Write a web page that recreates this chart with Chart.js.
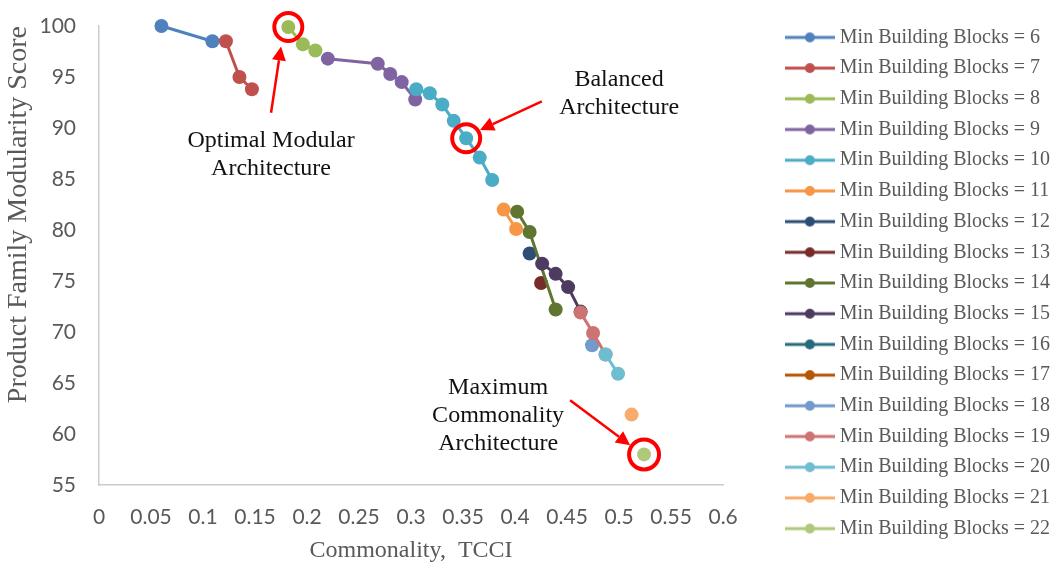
<!DOCTYPE html>
<html>
<head>
<meta charset="utf-8">
<title>Product Family Modularity vs Commonality</title>
<script src="https://cdn.jsdelivr.net/npm/chart.js@4.4.1/dist/chart.umd.min.js"></script>
<style>
  html, body { margin: 0; padding: 0; background: #fff; }
  #wrap { width: 1062px; height: 566px; position: relative; }
</style>
</head>
<body>
<div id="wrap"><canvas id="paretoChart"></canvas></div>
<script>
// --- data: [TCCI, modularity score] per min building blocks ---
const blockCounts = [6, 7, 8, 9, 10, 11, 12, 13, 14, 15, 16, 17, 18, 19, 20, 21, 22];

const mbb6  = [[0.060, 100.0], [0.109, 98.5]];
const mbb7  = [[0.122, 98.5], [0.135, 95.0], [0.147, 93.8]];
const mbb8  = [[0.182, 99.9], [0.196, 98.2], [0.208, 97.6]];
const mbb9  = [[0.220, 96.8], [0.268, 96.3], [0.280, 95.3], [0.291, 94.5], [0.304, 92.8]];
const mbb10 = [[0.305, 93.8], [0.318, 93.4], [0.330, 92.3], [0.341, 90.7], [0.353, 89.0], [0.366, 87.1], [0.378, 84.9]];
const mbb11 = [[0.389, 82.0], [0.401, 80.1]];
const mbb12 = [[0.414, 77.7]];
const mbb13 = [[0.425, 74.8]];
const mbb14 = [[0.402, 81.8], [0.414, 79.8], [0.439, 72.2]];
const mbb15 = [[0.426, 76.7], [0.439, 75.7], [0.451, 74.4], [0.463, 72.0]];
const mbb16 = [];
const mbb17 = [];
const mbb18 = [[0.474, 68.7]];
const mbb19 = [[0.463, 71.9], [0.475, 69.9], [0.487, 67.8]];
const mbb20 = [[0.487, 67.8], [0.499, 65.9]];
const mbb21 = [[0.512, 61.9]];
const mbb22 = [[0.524, 58.0]];

const allSeries = [mbb6, mbb7, mbb8, mbb9, mbb10, mbb11, mbb12, mbb13, mbb14,
                   mbb15, mbb16, mbb17, mbb18, mbb19, mbb20, mbb21, mbb22];

const seriesColors = ['#4F81BD', '#C0504D', '#9BBB59', '#8064A2', '#4BACC6', '#F79646',
                      '#2C4D75', '#772C2A', '#5F7530', '#4D3B62', '#276A7C', '#B65708',
                      '#729ACA', '#CD7371', '#6FBDD1', '#F9AB6B', '#AFC97A'];

// --- callouts (anchored in data units) ---
const callouts = [
    { lines: ['Optimal Modular', 'Architecture'], at: [0.1654, 88.8] },
    { lines: ['Balanced', 'Architecture'], at: [0.500, 94.7] },
    { lines: ['Maximum', 'Commonality', 'Architecture'], at: [0.3837, 64.5] }
];
const highlighted = [mbb8[0], mbb10[4], mbb22[0]];
const arrows = [
    { from: [0.1654, 91.5], to: [0.1750, 98.0] },
    { from: [0.4257, 92.6], to: [0.3663, 89.8] },
    { from: [0.4529, 63.3], to: [0.5106, 58.9] }
];

// legend swatch: line with a dot, like the Excel legend
function legendSwatch(color) {
    const c = document.createElement('canvas');
    c.width = 50; c.height = 14;
    const g = c.getContext('2d');
    g.strokeStyle = color; g.lineWidth = 3;
    g.beginPath(); g.moveTo(0, 7); g.lineTo(50, 7); g.stroke();
    g.fillStyle = color;
    g.beginPath(); g.arc(25, 7, 5, 0, Math.PI * 2); g.fill();
    return c;
}
const swatches = seriesColors.map(legendSwatch);

const annotationPlugin = {
    id: 'callouts',
    afterDatasetsDraw(chart) {
        const { ctx, scales: { x, y } } = chart;
        ctx.save();
        ctx.strokeStyle = '#FF0000';
        ctx.fillStyle = '#FF0000';

        // red rings
        ctx.lineWidth = 4;
        highlighted.forEach((p, i) => {
            ctx.beginPath();
            ctx.arc(x.getPixelForValue(p[0]), y.getPixelForValue(p[1]), i === 2 ? 15 : 14, 0, Math.PI * 2);
            ctx.stroke();
        });

        // arrows
        ctx.lineWidth = 2.5;
        arrows.forEach(a => {
            const x1 = x.getPixelForValue(a.from[0]), y1 = y.getPixelForValue(a.from[1]);
            const x2 = x.getPixelForValue(a.to[0]), y2 = y.getPixelForValue(a.to[1]);
            const ang = Math.atan2(y2 - y1, x2 - x1);
            const head = 14, half = 7;
            const bx = x2 - head * Math.cos(ang), by = y2 - head * Math.sin(ang);
            ctx.beginPath(); ctx.moveTo(x1, y1); ctx.lineTo(bx, by); ctx.stroke();
            ctx.beginPath();
            ctx.moveTo(x2, y2);
            ctx.lineTo(bx + half * Math.sin(ang), by - half * Math.cos(ang));
            ctx.lineTo(bx - half * Math.sin(ang), by + half * Math.cos(ang));
            ctx.closePath(); ctx.fill();
        });

        // texts
        ctx.fillStyle = '#111111';
        ctx.font = '24px "Liberation Serif", "Times New Roman", serif';
        ctx.textAlign = 'center';
        ctx.textBaseline = 'middle';
        callouts.forEach(c => {
            const cx = x.getPixelForValue(c.at[0]);
            const cy = y.getPixelForValue(c.at[1]);
            c.lines.forEach((t, k) => ctx.fillText(t, cx, cy + k * 28));
        });
        ctx.restore();
    }
};

Chart.defaults.font.family = 'Lato';
Chart.defaults.color = '#595959';

const serif = '"Liberation Serif", "Times New Roman", serif';

new Chart(document.getElementById('paretoChart'), {
    type: 'scatter',
    data: {
        datasets: allSeries.map((pts, i) => ({
            label: 'Min Building Blocks = ' + blockCounts[i],
            data: pts.map(p => ({ x: p[0], y: p[1] })),
            showLine: true,
            borderColor: seriesColors[i],
            backgroundColor: seriesColors[i],
            borderWidth: 3,
            pointRadius: 7,
            pointHoverRadius: 7,
            pointBorderWidth: 0,
            clip: false,
            order: -i
        }))
    },
    options: {
        responsive: true,
        maintainAspectRatio: false,
        animation: false,
        layout: { padding: { left: 0, right: 2, top: 0, bottom: 0 } },
        plugins: {
            tooltip: { enabled: false },
            legend: {
                position: 'right',
                maxWidth: 320,
                labels: {
                    usePointStyle: true,
                    pointStyleWidth: 40,
                    padding: 10.7,
                    color: '#595959',
                    font: { family: serif, size: 20 },
                    generateLabels(chart) {
                        const items = Chart.defaults.plugins.legend.labels.generateLabels(chart);
                        items.forEach(it => { it.pointStyle = swatches[it.datasetIndex]; });
                        return items.sort((a, b) => a.datasetIndex - b.datasetIndex);
                    }
                }
            }
        },
        scales: {
            x: {
                type: 'linear',
                min: 0, max: 0.6,
                grid: { display: false, drawTicks: false },
                border: { display: true, color: '#CCCCCC', width: 1.5 },
                ticks: {
                    stepSize: 0.05,
                    padding: 20,
                    font: { size: 21 },
                    callback: v => String(Number(v.toFixed(2)))
                },
                title: {
                    display: true,
                    text: 'Commonality,  TCCI',
                    font: { family: serif, size: 24 },
                    padding: { top: 0, bottom: 1 }
                },
                afterFit(s) { s.height = 81; }
            },
            y: {
                min: 55, max: 100,
                grid: { display: false, drawTicks: false },
                border: { display: true, color: '#CCCCCC', width: 1.5 },
                ticks: { stepSize: 5, padding: 23, font: { size: 21 } },
                title: {
                    display: true,
                    text: 'Product Family Modularity Score',
                    align: 'end',
                    font: { family: serif, size: 28 },
                    padding: { top: 2, bottom: 0 }
                },
                afterFit(s) { s.width = 99; s.paddingTop = 26; s.paddingBottom = 0; }
            },
            gap: {
                type: 'linear',
                position: 'right',
                display: true,
                grid: { display: false, drawTicks: false },
                border: { display: false },
                ticks: { display: false },
                afterFit(s) { s.width = 56; }
            }
        }
    },
    plugins: [annotationPlugin]
});
</script>
</body>
</html>
